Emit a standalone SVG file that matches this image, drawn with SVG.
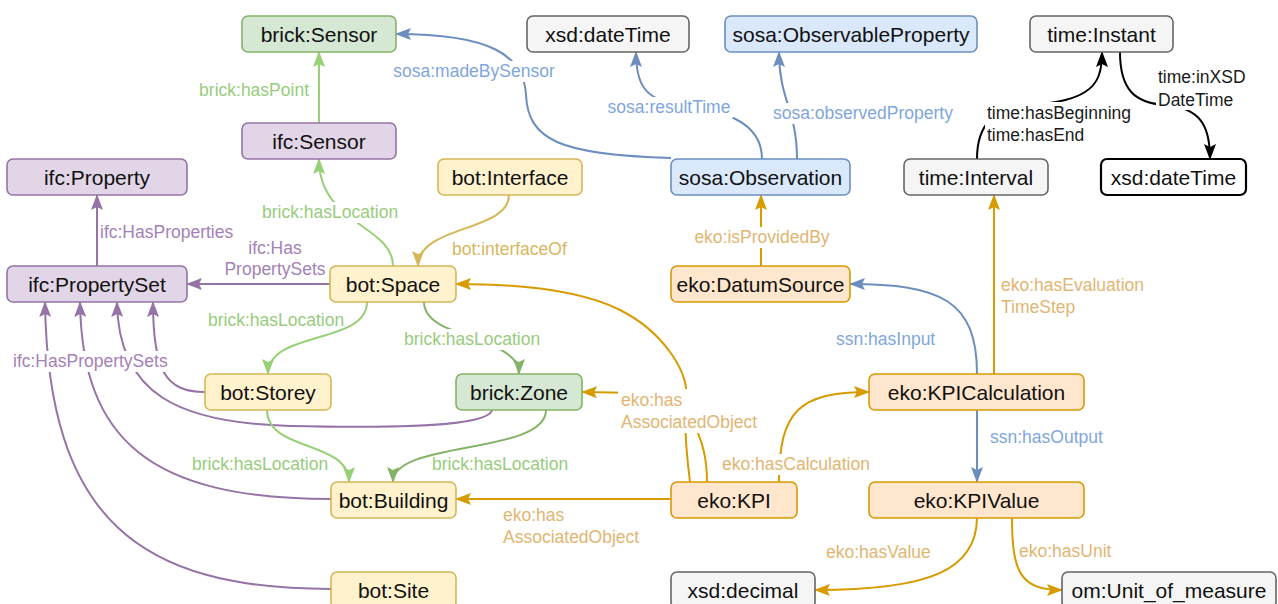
<svg xmlns="http://www.w3.org/2000/svg" width="1278" height="604" viewBox="0 0 1278 604">
<style>
.n rect{stroke-width:1.6}
.n text{font-family:"Liberation Sans",Arial,sans-serif;font-size:21px;fill:#111;text-anchor:middle}
.green rect{fill:#d5e8d4;stroke:#82b366}
.purple rect{fill:#e1d5e7;stroke:#9673a6}
.gray rect{fill:#f5f5f5;stroke:#666}
.blue rect{fill:#dae8fc;stroke:#6c8ebf}
.yellow rect{fill:#fff2cc;stroke:#d6b656}
.orange rect{fill:#ffe6cc;stroke:#d79b00}
.bw rect{fill:#fff;stroke:#000;stroke-width:2.2}
#edges path{fill:none;stroke-width:2}
.eg{stroke:#97d077;marker-end:url(#mg)}
.egd{stroke:#82b366;marker-end:url(#mgd)}
.ep{stroke:#9673a6;marker-end:url(#mp)}
.eb{stroke:#6c8ebf;marker-end:url(#mb)}
.eo{stroke:#d79b00;marker-end:url(#mo)}
.ey{stroke:#d6b656;marker-end:url(#my)}
.ek{stroke:#000;marker-end:url(#mk)}
.lbg{fill:#fff}
#labels text{font-family:"Liberation Sans",Arial,sans-serif;font-size:17.5px}
.tg{fill:#97cc7c}
.tp{fill:#a481b6}
.tb{fill:#80a6dc}
.to{fill:#e2b572}
.ty{fill:#d8b65e}
.tk{fill:#1a1a1a}
</style>
<defs>
<marker id="mg" viewBox="0 0 16 12" markerWidth="16" markerHeight="12" refX="15" refY="6" orient="auto" markerUnits="userSpaceOnUse"><path d="M0,0 L16,6 L0,12 L3,6 Z" fill="#97d077"/></marker>
<marker id="mgd" viewBox="0 0 16 12" markerWidth="16" markerHeight="12" refX="15" refY="6" orient="auto" markerUnits="userSpaceOnUse"><path d="M0,0 L16,6 L0,12 L3,6 Z" fill="#82b366"/></marker>
<marker id="mp" viewBox="0 0 16 12" markerWidth="16" markerHeight="12" refX="15" refY="6" orient="auto" markerUnits="userSpaceOnUse"><path d="M0,0 L16,6 L0,12 L3,6 Z" fill="#9673a6"/></marker>
<marker id="mb" viewBox="0 0 16 12" markerWidth="16" markerHeight="12" refX="15" refY="6" orient="auto" markerUnits="userSpaceOnUse"><path d="M0,0 L16,6 L0,12 L3,6 Z" fill="#6c8ebf"/></marker>
<marker id="mo" viewBox="0 0 16 12" markerWidth="16" markerHeight="12" refX="15" refY="6" orient="auto" markerUnits="userSpaceOnUse"><path d="M0,0 L16,6 L0,12 L3,6 Z" fill="#d79b00"/></marker>
<marker id="my" viewBox="0 0 16 12" markerWidth="16" markerHeight="12" refX="15" refY="6" orient="auto" markerUnits="userSpaceOnUse"><path d="M0,0 L16,6 L0,12 L3,6 Z" fill="#d6b656"/></marker>
<marker id="mk" viewBox="0 0 16 12" markerWidth="16" markerHeight="12" refX="15" refY="6" orient="auto" markerUnits="userSpaceOnUse"><path d="M0,0 L16,6 L0,12 L3,6 Z" fill="#000"/></marker>
</defs>
<rect width="1278" height="604" fill="#fff"/>
<g id="edges">
<path class="eg" d="M319,123 L319,52"/>
<path class="eg" d="M393,266 C393,225 319,225 319,159"/>
<path class="eb" d="M671,158 C560,155 528,140 526,95 C524,55 490,34 396,34"/>
<path class="eb" d="M762,159 C762,120 720,110 680,105 C645,100 636,85 636,52"/>
<path class="eb" d="M797,159 C797,110 779,100 779,52"/>
<path class="eo" d="M761,266 L761,195"/>
<path class="ey" d="M509,195 C509,232 418,225 418,266"/>
<path class="ep" d="M330,284 L187,284"/>
<path class="ep" d="M97,266 L97,195"/>
<path class="ep" d="M205,392 C165,392 153,370 153,302"/>
<path class="ep" d="M492,410 C488,428 380,428 290,426 C180,423 118,395 117,302"/>
<path class="ep" d="M331,499 C150,499 82,440 80,302"/>
<path class="ep" d="M331,589 C140,589 48,520 45,302"/>
<path class="eg" d="M367,302 C367,345 268,330 268,374"/>
<path class="egd" d="M424,302 C424,340 519,335 519,374"/>
<path class="eg" d="M267,410 C267,452 349,440 349,482"/>
<path class="egd" d="M546,410 C546,455 393,440 393,482"/>
<path class="eo" d="M671,499 L456,499"/>
<path class="eo" d="M690,482 C686,450 684,420 686,400 C690,370 660,330 620,310 C580,290 520,284 456,284"/>
<path class="eo" d="M707,482 C707,440 690,395 640,393 L582,392"/>
<path class="eo" d="M779,482 C779,410 800,392 869,392"/>
<path class="eb" d="M977,374 C977,300 940,284 850,284"/>
<path class="eo" d="M994,374 L994,195"/>
<path class="eb" d="M977,410 L977,482"/>
<path class="eo" d="M977,517 C977,570 930,590 815,590"/>
<path class="eo" d="M1012,517 C1012,572 1020,590 1062,590"/>
<path class="ek" d="M977,159 C977,140 982,128 990,120 C1020,100 1060,108 1085,92 C1098,84 1102,72 1102,52"/>
<path class="ek" d="M1120,52 C1120,90 1135,103 1165,105 C1200,108 1210,125 1210,159"/>
</g>
<g id="labels">
<rect class="lbg" x="259" y="202" width="142" height="21"/>
<rect class="lbg" x="390" y="61" width="168" height="21"/>
<rect class="lbg" x="605" y="97" width="128" height="21"/>
<rect class="lbg" x="767" y="103" width="193" height="21"/>
<rect class="lbg" x="689" y="227" width="146" height="21"/>
<rect class="lbg" x="10" y="351" width="164" height="21"/>
<rect class="lbg" x="401" y="329" width="142" height="21"/>
<rect class="lbg" x="618" y="389" width="146" height="44"/>
<rect class="lbg" x="719" y="454" width="153" height="21"/>
<rect class="lbg" x="985" y="102" width="150" height="44"/>
<rect class="lbg" x="1156" y="66" width="93" height="44"/>
<text class="tg" x="309" y="96" text-anchor="end">brick:hasPoint</text>
<text class="tg" x="262" y="218">brick:hasLocation</text>
<text class="tb" x="474" y="77" text-anchor="middle">sosa:madeBySensor</text>
<text class="tb" x="669" y="113" text-anchor="middle">sosa:resultTime</text>
<text class="tb" x="863" y="119" text-anchor="middle">sosa:observedProperty</text>
<text class="to" x="762" y="243" text-anchor="middle">eko:isProvidedBy</text>
<text class="ty" x="452" y="255">bot:interfaceOf</text>
<text class="tp" x="275" y="254" text-anchor="middle">ifc:Has</text>
<text class="tp" x="275" y="275" text-anchor="middle">PropertySets</text>
<text class="tp" x="100" y="238">ifc:HasProperties</text>
<text class="tp" x="13" y="367">ifc:HasPropertySets</text>
<text class="tg" x="208" y="326">brick:hasLocation</text>
<text class="tg" x="404" y="345">brick:hasLocation</text>
<text class="tg" x="192" y="470">brick:hasLocation</text>
<text class="tg" x="432" y="470">brick:hasLocation</text>
<text class="to" x="503" y="521">eko:has</text>
<text class="to" x="503" y="543">AssociatedObject</text>
<text class="to" x="621" y="406">eko:has</text>
<text class="to" x="621" y="428">AssociatedObject</text>
<text class="to" x="722" y="470">eko:hasCalculation</text>
<text class="tb" x="836" y="345">ssn:hasInput</text>
<text class="to" x="1001" y="291">eko:hasEvaluation</text>
<text class="to" x="1001" y="313">TimeStep</text>
<text class="tb" x="990" y="443">ssn:hasOutput</text>
<text class="to" x="826" y="558">eko:hasValue</text>
<text class="to" x="1019" y="557">eko:hasUnit</text>
<text class="tk" x="987" y="119">time:hasBeginning</text>
<text class="tk" x="987" y="141">time:hasEnd</text>
<text class="tk" x="1158" y="83">time:inXSD</text>
<text class="tk" x="1158" y="106">DateTime</text>
</g>
<g id="brick-sensor" class="n green"><rect x="242" y="16" width="154" height="36" rx="6"/><text x="319" y="41.5">brick:Sensor</text></g>
<g id="ifc-sensor" class="n purple"><rect x="242" y="123" width="154" height="36" rx="6"/><text x="319" y="148.5">ifc:Sensor</text></g>
<g id="ifc-property" class="n purple"><rect x="7" y="159" width="180" height="36" rx="6"/><text x="97" y="184.5">ifc:Property</text></g>
<g id="xsd-datetime-1" class="n gray"><rect x="527" y="16" width="162" height="36" rx="6"/><text x="608" y="41.5">xsd:dateTime</text></g>
<g id="sosa-observableproperty" class="n blue"><rect x="725" y="16" width="252" height="36" rx="6"/><text x="851" y="41.5">sosa:ObservableProperty</text></g>
<g id="time-instant" class="n gray"><rect x="1030" y="16" width="143" height="36" rx="6"/><text x="1101.5" y="41.5">time:Instant</text></g>
<g id="sosa-observation" class="n blue"><rect x="671" y="159" width="179" height="36" rx="6"/><text x="760.5" y="184.5">sosa:Observation</text></g>
<g id="bot-interface" class="n yellow"><rect x="438" y="159" width="144" height="36" rx="6"/><text x="510" y="184.5">bot:Interface</text></g>
<g id="time-interval" class="n gray"><rect x="904" y="159" width="144" height="36" rx="6"/><text x="976" y="184.5">time:Interval</text></g>
<g id="xsd-datetime-2" class="n bw"><rect x="1101" y="159" width="145" height="36" rx="6"/><text x="1173.5" y="184.5">xsd:dateTime</text></g>
<g id="ifc-propertyset" class="n purple"><rect x="7" y="266" width="180" height="36" rx="6"/><text x="97" y="291.5">ifc:PropertySet</text></g>
<g id="bot-space" class="n yellow"><rect x="330" y="266" width="126" height="36" rx="6"/><text x="393" y="291.5">bot:Space</text></g>
<g id="eko-datumsource" class="n orange"><rect x="671" y="266" width="179" height="36" rx="6"/><text x="760.5" y="291.5">eko:DatumSource</text></g>
<g id="bot-storey" class="n yellow"><rect x="205" y="374" width="126" height="36" rx="6"/><text x="268" y="399.5">bot:Storey</text></g>
<g id="brick-zone" class="n green"><rect x="456" y="374" width="126" height="36" rx="6"/><text x="519" y="399.5">brick:Zone</text></g>
<g id="eko-kpicalculation" class="n orange"><rect x="869" y="374" width="215" height="36" rx="6"/><text x="976.5" y="399.5">eko:KPICalculation</text></g>
<g id="bot-building" class="n yellow"><rect x="331" y="482" width="125" height="36" rx="6"/><text x="393.5" y="507.5">bot:Building</text></g>
<g id="eko-kpi" class="n orange"><rect x="671" y="482" width="126" height="36" rx="6"/><text x="734" y="507.5">eko:KPI</text></g>
<g id="eko-kpivalue" class="n orange"><rect x="869" y="482" width="215" height="36" rx="6"/><text x="976.5" y="507.5">eko:KPIValue</text></g>
<g id="bot-site" class="n yellow"><rect x="331" y="572" width="125" height="36" rx="6"/><text x="393.5" y="597.5">bot:Site</text></g>
<g id="xsd-decimal" class="n gray"><rect x="671" y="572" width="144" height="36" rx="6"/><text x="743" y="597.5">xsd:decimal</text></g>
<g id="om-unit" class="n gray"><rect x="1062" y="572" width="214" height="36" rx="6"/><text x="1169" y="597.5">om:Unit_of_measure</text></g>
</svg>
